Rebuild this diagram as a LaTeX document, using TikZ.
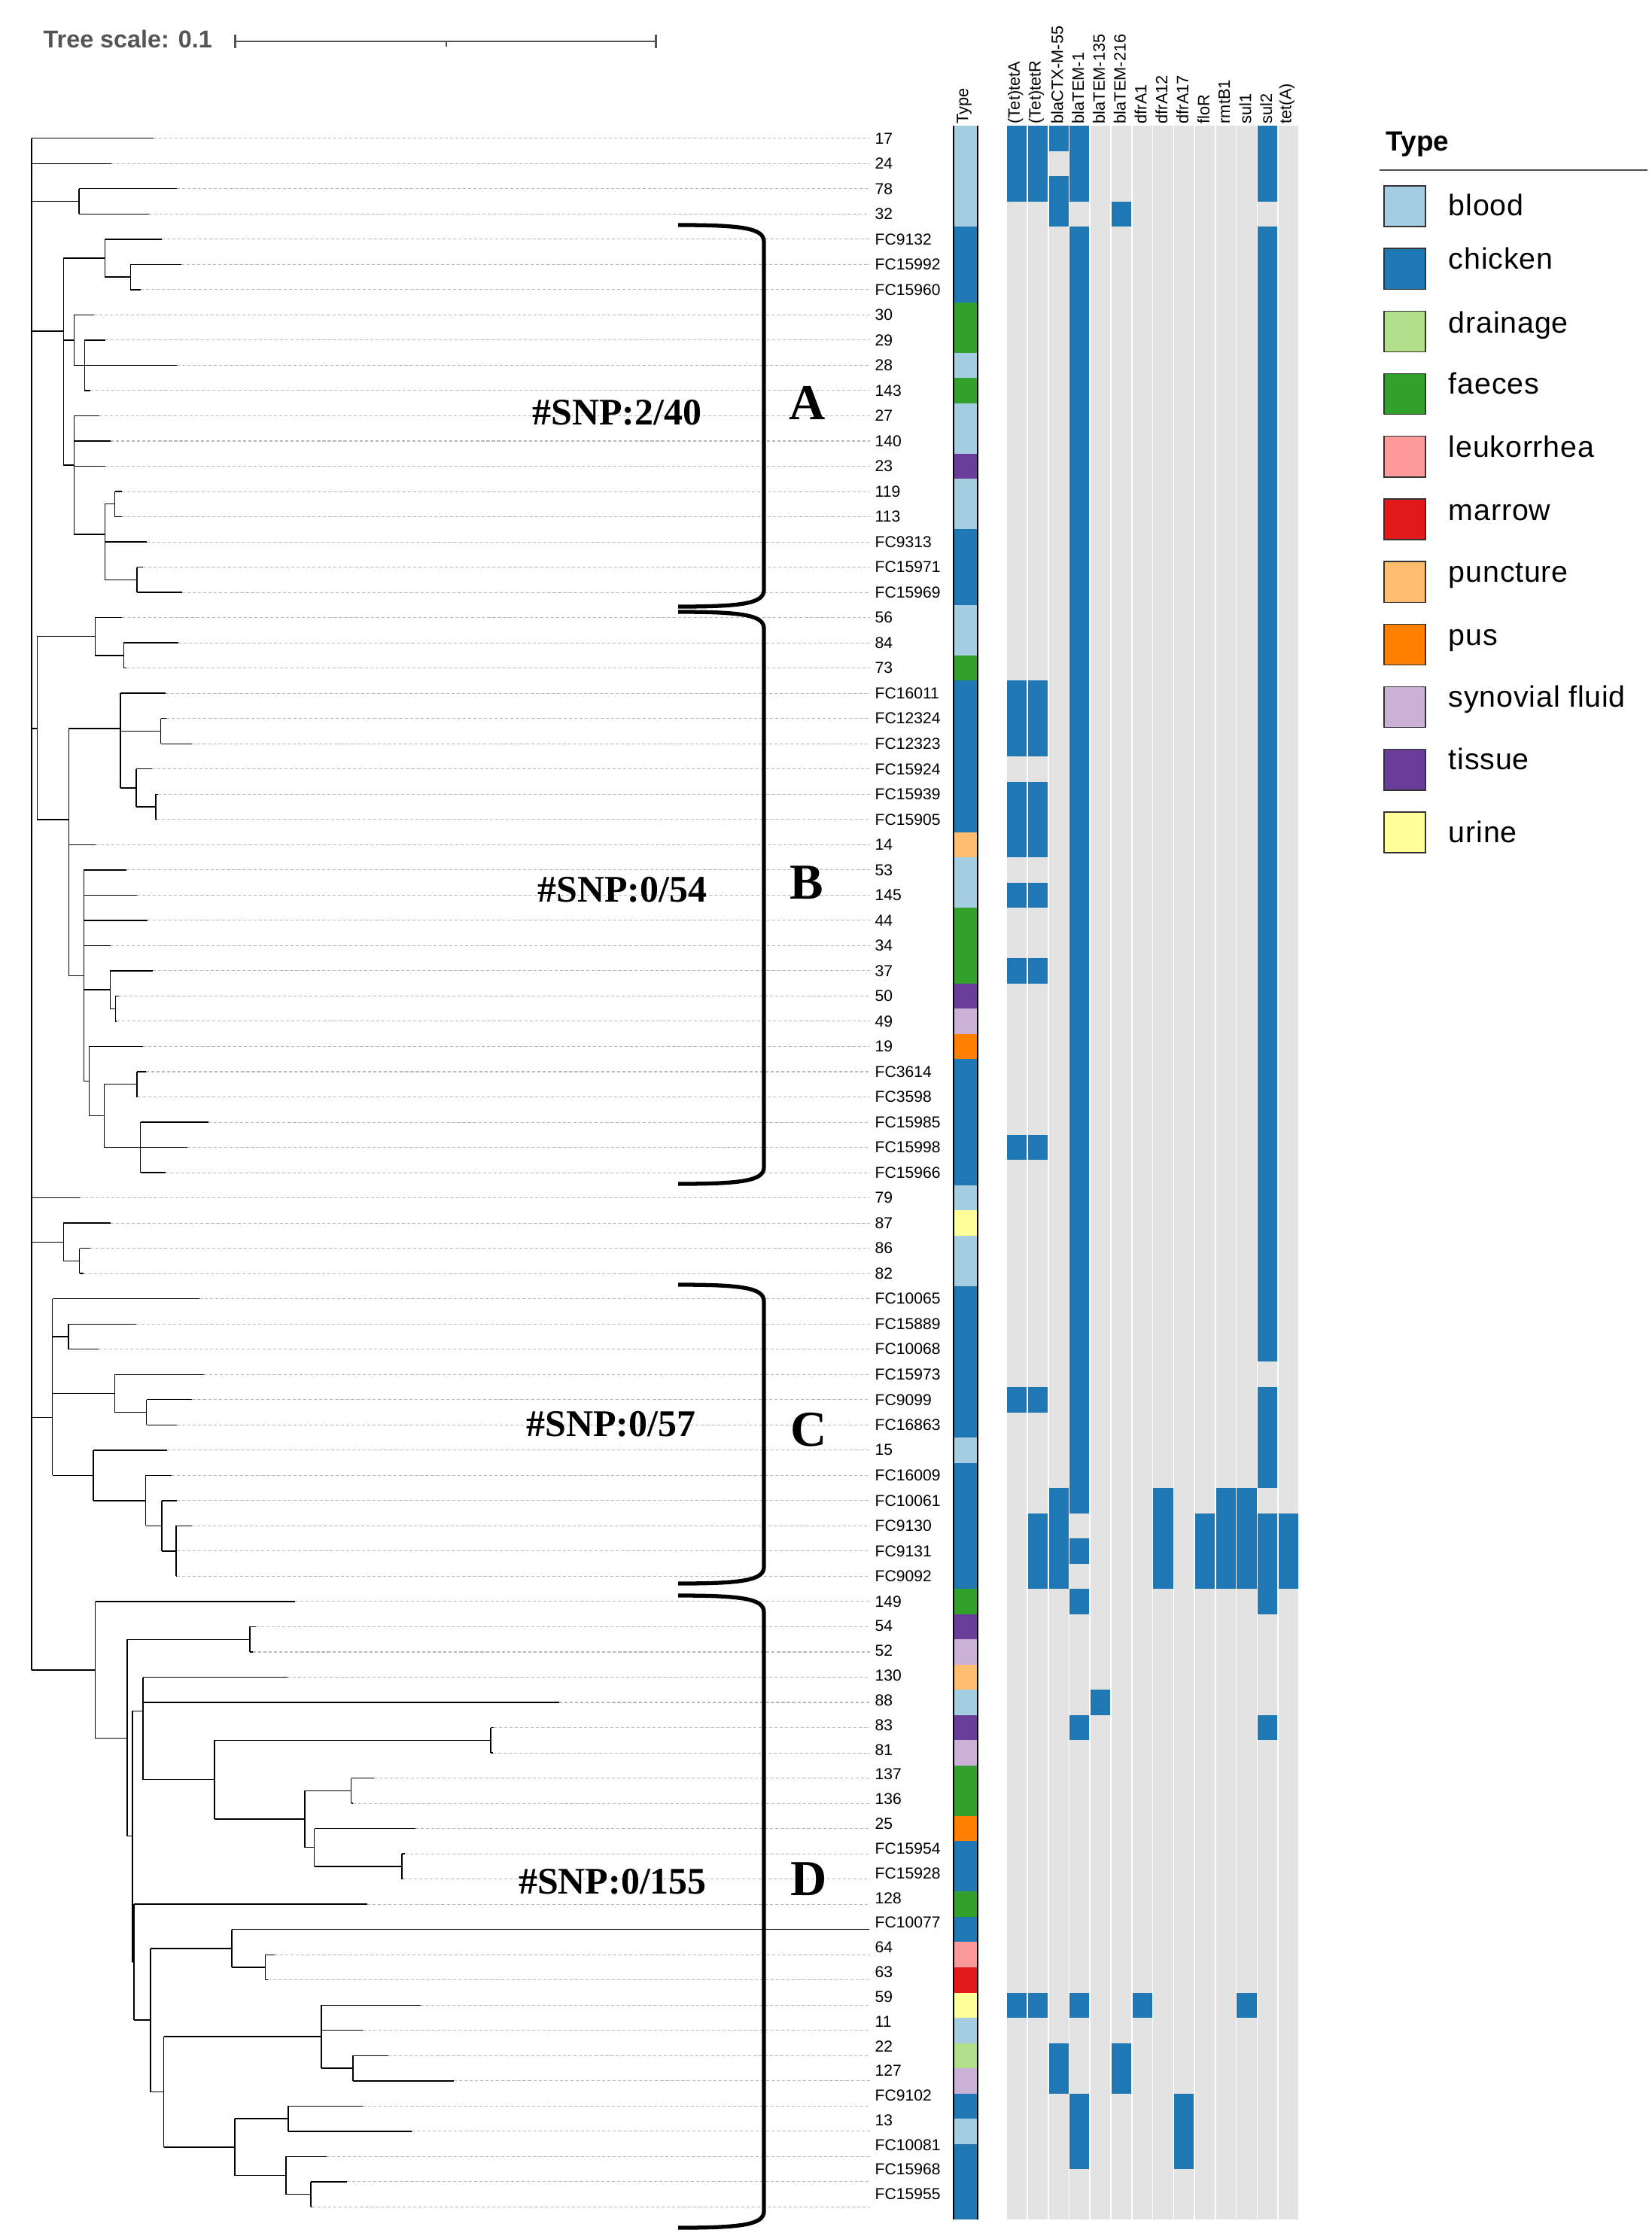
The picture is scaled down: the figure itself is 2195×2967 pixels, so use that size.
\documentclass[tikz,border=0pt]{standalone}
\usepackage{fontspec}
\setmainfont{Liberation Sans}
\newfontfamily\snpfont{Liberation Serif}
\newfontfamily\legendfont[LetterSpace=2]{Liberation Sans}
\usetikzlibrary{positioning}

\definecolor{blood}{HTML}{A6CEE3}
\definecolor{chicken}{HTML}{1F78B4}
\definecolor{drainage}{HTML}{B2DF8A}
\definecolor{faeces}{HTML}{33A02C}
\definecolor{leukorrhea}{HTML}{FB9A99}
\definecolor{marrow}{HTML}{E31A1C}
\definecolor{puncture}{HTML}{FDBF6F}
\definecolor{pus}{HTML}{FF7F00}
\definecolor{synovial}{HTML}{CAB2D6}
\definecolor{tissue}{HTML}{6A3D9A}
\definecolor{urine}{HTML}{FFFF99}
\definecolor{absent}{HTML}{E3E3E3}
\colorlet{present}{chicken}
\definecolor{scalegrey}{HTML}{555555}

\tikzset{
  branch/.style={black, line width=0.4pt},
  guide/.style={gray!55, line width=0.3pt, dash pattern=on 1.2pt off 0.8pt},
  leaflabel/.style={anchor=west, inner sep=0pt, inner xsep=0.065cm, font=\fontsize{6}{7}\selectfont},
  genelabel/.style={rotate=90, anchor=west, inner sep=0pt, font=\fontsize{6.2}{7}\selectfont},
  bracket/.style={line width=1.5pt},
  snp/.style={inner sep=0pt, font=\snpfont\bfseries\fontsize{14.2}{16}\selectfont},
  cladeletter/.style={inner sep=0pt, font=\snpfont\bfseries\fontsize{19}{22}\selectfont},
  swatch/.style={draw=black!80, line width=0.4pt, minimum width=0.55cm, minimum height=0.54cm, inner sep=0pt},
  legendtext/.style={inner sep=0pt, font=\legendfont\fontsize{11.2}{13}\selectfont}
}

\newcommand{\cladebracket}[2]{%
  \draw[bracket] (901,#1) .. controls (985,#1) and (1015,#1+4) .. (1015,#1+22)
    -- (1015,#2-22) .. controls (1015,#2-4) and (985,#2) .. (901,#2);}

\begin{document}
\begin{tikzpicture}[x=0.01cm, y=-0.01cm]
\fill[white] (0,0) rectangle (2195,2967);
\useasboundingbox (0,0) rectangle (2195,2967);

% tree scale
\node[anchor=base west, inner sep=0pt, text=scalegrey, font=\bfseries\fontsize{9.2}{11}\selectfont] (treescale) at (57,64) {Tree scale: 0.1};
\draw[scalegrey, line width=0.8pt] (312.5,46) -- (312.5,64) (312.5,55) -- (871.8,55) (871.8,46) -- (871.8,64);
\draw[scalegrey, line width=0.3pt] (593,55) -- (593,62);

% one unit of y is one row from here on
\begin{scope}[shift={(0,183.75)}, y=-0.335cm]
  % leaves: row / label / parent x / tip x
  \foreach \rw/\nm/\pa/\tp in {
    0/17/42/204, 1/24/42/148, 2/78/105/235, 3/32/105/198,
    4/FC9132/139.3/215, 5/FC15992/173.3/241, 6/FC15960/173.3/186.6,
    7/30/98.3/125, 8/29/112.3/140, 9/28/112.3/235, 10/143/112.3/120,
    11/27/98.3/132, 12/140/98.3/147, 13/23/98.3/140,
    14/119/152.6/162, 15/113/152.6/162, 16/FC9313/139.3/194.5,
    17/FC15971/182/190, 18/FC15969/182/242,
    19/56/126.3/162, 20/84/164.3/237, 21/73/164.3/168,
    22/FC16011/160/220, 23/FC12324/213.5/221, 24/FC12323/213.5/255.4,
    25/FC15924/181/201.7, 26/FC15939/207/209.5, 27/FC15905/207/207.5,
    28/14/91.3/126.5, 29/53/111.3/167.7, 30/145/111.3/182, 31/44/111.3/196,
    32/34/111.3/147, 33/37/146.3/202.5, 34/50/153.3/158, 35/49/153.3/155,
    36/19/118.3/190, 37/FC3614/182/193.7, 38/FC3598/182/183,
    39/FC15985/186.6/276.8, 40/FC15998/186.6/249, 41/FC15966/186.6/219.8,
    42/79/42/106, 43/87/84.3/146.7, 44/86/105.7/120, 45/82/105.7/111,
    46/FC10065/69.6/265, 47/FC15889/91/181, 48/FC10068/91/131,
    49/FC15973/152.6/271, 50/FC9099/194.5/255.4, 51/FC16863/194.5/235,
    52/15/124/222, 53/FC16009/193.7/227.8, 54/FC10061/215/235,
    55/FC9130/234/254.6, 56/FC9131/234/234.5, 57/FC9092/234/234.5,
    58/149/126.5/391.5, 59/54/332/340, 60/52/332/336,
    61/130/190/382, 62/88/190/743, 63/83/652/656, 64/81/652/655,
    65/137/466.6/496.6, 66/136/466.6/469, 67/25/417.5/552,
    68/FC15954/534/538, 69/FC15928/534/536, 70/128/178/488,
    71/FC10077/308/1155, 72/64/352.7/365, 73/63/352.7/356,
    74/59/427/559, 75/11/427/482, 76/22/469/516, 77/127/469/603,
    78/FC9102/383/482, 79/13/383/547, 80/FC10081/380/434,
    81/FC15968/413/461, 82/FC15955/413/415}
  {
    \pgfmathsetmacro\ly{\rw-0.021*max(\rw-58,0)}
    \node[leaflabel] (lab\rw) at (1155.5,\ly) {\nm};
    \coordinate (tip\rw) at (\tp,\rw);
    \draw[branch] (\pa,\rw) -- (tip\rw);
    \draw[guide] (tip\rw) -- (tip\rw -| lab\rw.west);
  }

  % inner nodes: x / first row / last row / parent x / row of the stem
  \draw[branch] (42,0) -- (42,60.72);
  \foreach \x/\ra/\rb/\px/\py in {
    105/2/3/42/2.5, 84.3/4.75/12.96/42/7.64, 139.3/4/5.5/84.3/4.75,
    173.3/5/6/139.3/5.5, 98.3/7/9/84.3/8, 112.3/8/10/98.3/9,
    98.3/11/15.7/84.3/12.96, 139.3/14.5/17.5/98.3/15.7, 152.6/14/15/139.3/14.5,
    182/17/18/139.3/17.5,
    49.3/19.75/27/42/23.4, 126.3/19/20.5/49.3/19.75, 164.3/20/21/126.3/20.5,
    91.3/23.4/33.2/49.3/27, 160/22/25.75/91.3/23.4, 213.5/23/24/160/23.5,
    181/25/26.5/160/25.75, 207/26/27/181/26.5, 111.3/29/37.375/91.3/33.2,
    146.3/33/34.5/111.3/33.75, 153.3/34/35/146.3/34.5, 118.3/36/38.75/111.3/37.375,
    138.3/37.5/40/118.3/38.75, 182/37/38/138.3/37.5, 186.6/39/41/138.3/40,
    84.3/43/44.5/42/43.75, 105.7/44/45/84.3/44.5,
    69.6/46/53/42/50.7, 91/47/48/69.6/47.5, 152.6/49/50.5/69.6/49.75,
    194.5/50/51/152.6/50.5, 124/52/54/69.6/53, 193.7/53/55/124/54,
    215/54/56/193.7/55, 234/55/57/215/56,
    126.5/58/63.42/42/60.72, 169/59.5/67.3/126.5/63.42, 332/59/60/169/59.5,
    176/62.34/72.3/169/67.3, 190/61/65.06/176/62.34, 285/63.5/66.625/190/65.06,
    652/63/64/285/63.5, 405/65.5/67.75/285/66.625, 466.6/65/66/405/65.5,
    417.5/67/68.5/405/67.75, 534/68/69/417.5/68.5, 178/70/74.59/176/72.3,
    200/71.75/77.44/178/74.59, 308/71/72.5/200/71.75, 352.7/72/73/308/72.5,
    217.5/75.25/79.625/200/77.44, 427/74/76.5/217.5/75.25, 469/76/77/427/76.5,
    312/78.5/80.75/217.5/79.625, 383/78/79/312/78.5, 380/80/81.5/312/80.75,
    413/81/82/380/81.5}
    \draw[branch] (\px,\py) -- (\x,\py) (\x,\ra) -- (\x,\rb);

  % type strip
  \foreach \a/\b/\c in {0/3/blood, 4/6/chicken, 7/8/faeces, 9/9/blood, 10/10/faeces,
    11/12/blood, 13/13/tissue, 14/15/blood, 16/18/chicken, 19/20/blood, 21/21/faeces,
    22/27/chicken, 28/28/puncture, 29/30/blood, 31/33/faeces, 34/34/tissue,
    35/35/synovial, 36/36/pus, 37/41/chicken, 42/42/blood, 43/43/urine, 44/45/blood,
    46/51/chicken, 52/52/blood, 53/57/chicken, 58/58/faeces, 59/59/tissue,
    60/60/synovial, 61/61/puncture, 62/62/blood, 63/63/tissue, 64/64/synovial,
    65/66/faeces, 67/67/pus, 68/69/chicken, 70/70/faeces, 71/71/chicken,
    72/72/leukorrhea, 73/73/marrow, 74/74/urine, 75/75/blood, 76/76/drainage,
    77/77/synovial, 78/78/chicken, 79/79/blood, 80/82/chicken}
    \fill[\c] (1267,\a-0.5) rectangle (1299,\b+0.5);
  \draw[line width=0.4pt] (1267,-0.5) -- (1267,82.5) (1299,-0.5) -- (1299,82.5);

  % gene matrix
  \foreach \c in {0,...,13}
    \fill[absent] ({1337.2+27.76*\c+0.8},-0.5) rectangle ({1337.2+27.76*(\c+1)-0.8},82.5);
  \foreach \c/\a/\b in {0/0/2, 0/22/24, 0/26/28, 0/30/30, 0/33/33, 0/40/40, 0/50/50, 0/74/74,
    1/0/2, 1/22/24, 1/26/28, 1/30/30, 1/33/33, 1/40/40, 1/50/50, 1/55/57, 1/74/74,
    2/0/0, 2/2/3, 2/54/57, 2/76/77,
    3/0/2, 3/4/54, 3/56/56, 3/58/58, 3/63/63, 3/74/74, 3/78/80,
    4/62/62, 5/3/3, 5/76/77, 6/74/74, 7/54/57, 8/78/80, 9/55/57, 10/54/57,
    11/54/57, 11/74/74,
    12/0/2, 12/4/48, 12/50/53, 12/55/58, 12/63/63, 13/55/57}
    \fill[present] ({1337.2+27.76*\c+0.8},\a-0.5) rectangle ({1337.2+27.76*(\c+1)-0.8},\b+0.5);
\end{scope}

% column heads
\node[genelabel] (typehead) at (1281,165) {Type};
\foreach \c/\gname in {0/{(Tet)tetA}, 1/{(Tet)tetR}, 2/blaCTX-M-55, 3/blaTEM-1,
  4/blaTEM-135, 5/blaTEM-216, 6/dfrA1, 7/dfrA12, 8/dfrA17, 9/floR, 10/rmtB1,
  11/sul1, 12/sul2, 13/{tet(A)}}
  \node[genelabel] (gene\c) at ({1337.2+27.76*\c+11.9},165) {\gname};

% clades
\cladebracket{299}{806}
\cladebracket{813}{1573}
\cladebracket{1707}{2104}
\cladebracket{2120}{2960}
\node[snp] (snpA) at (820,548) {\#SNP:2/40};
\node[snp] (snpB) at (827,1182) {\#SNP:0/54};
\node[snp] (snpC) at (812,1892) {\#SNP:0/57};
\node[snp] (snpD) at (814,2500) {\#SNP:0/155};
\node[cladeletter] (cladeA) at (1073,535) {A};
\node[cladeletter] (cladeB) at (1072,1173) {B};
\node[cladeletter] (cladeC) at (1075,1900) {C};
\node[cladeletter] (cladeD) at (1075,2497) {D};

% legend
\node[anchor=base west, inner sep=0pt, font=\bfseries\fontsize{10.5}{12}\selectfont] (legtitle) at (1841,201) {Type};
\draw[black!70, line width=0.4pt] (1833,226) -- (2189,226);
\foreach \i/\c/\txt/\dy in {0/blood/blood/-0.124, 1/chicken/chicken/0, 2/drainage/drainage/-0.02,
  3/faeces/faeces/0, 4/leukorrhea/leukorrhea/-0.01, 5/marrow/marrow/-0.01, 6/puncture/puncture/0,
  7/pus/pus/-0.01, 8/synovial/synovial fluid/0, 9/tissue/tissue/0, 10/urine/urine/-0.13}
{
  \node[swatch, fill=\c] (sw\i) at (1866.5,{274+83.2*\i}) {};
  \node[legendtext, right=0.295cm of sw\i, anchor=base west, yshift=\dy cm] (lt\i) {\txt};
}
\end{tikzpicture}
\end{document}
